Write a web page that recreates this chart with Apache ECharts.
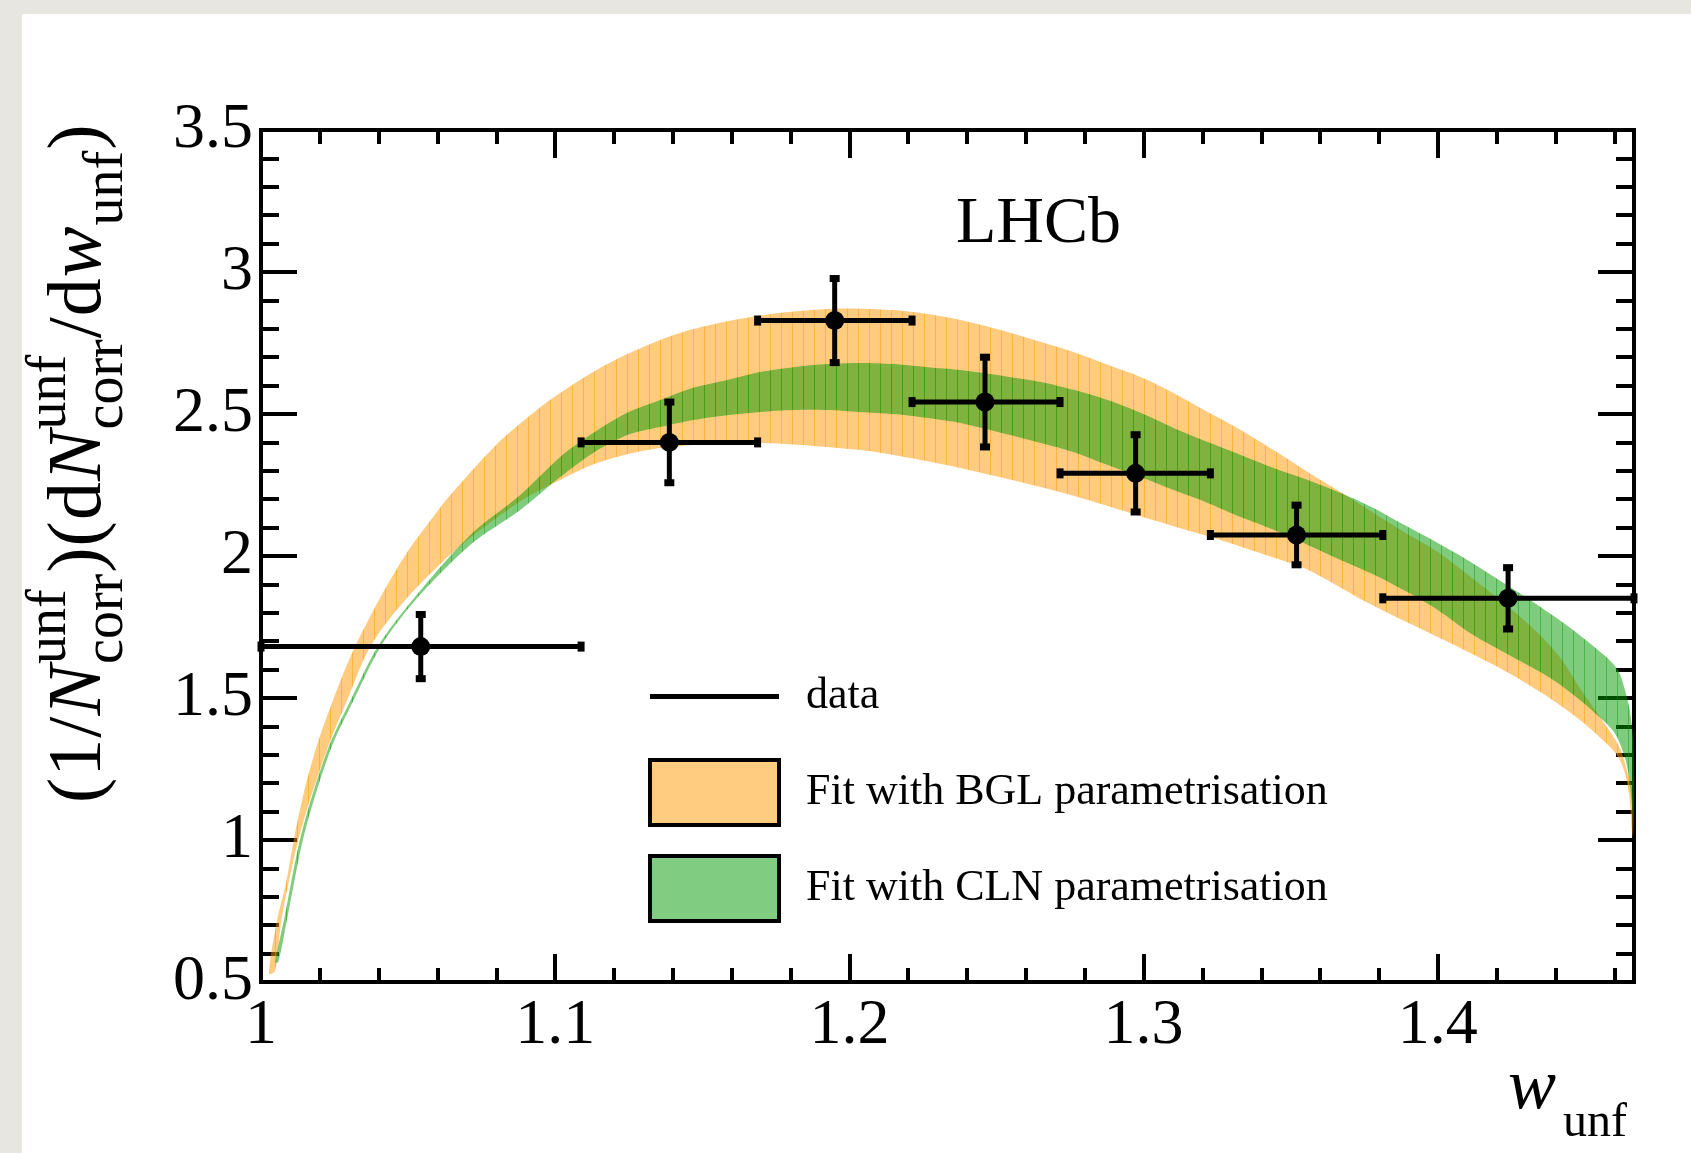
<!DOCTYPE html>
<html>
<head>
<meta charset="utf-8">
<title>LHCb w_unf spectrum</title>
<script src="https://cdn.jsdelivr.net/npm/echarts@6/dist/echarts.min.js"></script>
<style>
  html, body { margin: 0; padding: 0; width: 1691px; height: 1153px; overflow: hidden; background: #e8e6e1; }
  #card { position: absolute; left: 22px; top: 14px; width: 1669px; height: 1139px; background: #fff; }
  #chart { position: absolute; left: 0; top: 0; width: 1691px; height: 1153px; }
</style>
</head>
<body>
<div id="card"></div>
<div id="chart"></div>
<script>
// axis ranges
const xRange = [1, 1.4667]
const yRange = [0.5, 3.5]

// measured points: bin edges, bin centre, value, error
const binLow = [1.0, 1.1088, 1.1688, 1.2213, 1.2716, 1.3227, 1.3813]
const binHigh = [1.1088, 1.1688, 1.2213, 1.2716, 1.3227, 1.3813, 1.4667]
const wPoint = [1.0543, 1.1388, 1.1950, 1.2461, 1.2973, 1.3520, 1.4239]
const yPoint = [1.681, 2.400, 2.829, 2.542, 2.291, 2.074, 1.851]
const yError = [0.113, 0.142, 0.148, 0.158, 0.136, 0.105, 0.108]

// fit bands, [w, value] along each edge
const bglUpper = [
  [1.0027, 0.530], [1.0054, 0.715], [1.0085, 0.849], [1.0116, 1.025], [1.0146, 1.169],
  [1.0177, 1.289], [1.0204, 1.377], [1.0245, 1.493], [1.0289, 1.609], [1.0327, 1.697],
  [1.0401, 1.845], [1.0493, 2.007], [1.0585, 2.137], [1.0629, 2.197], [1.0799, 2.391],
  [1.0946, 2.521], [1.1017, 2.574], [1.1129, 2.648], [1.1245, 2.711], [1.1357, 2.761],
  [1.1469, 2.799], [1.1585, 2.827], [1.1697, 2.847], [1.1810, 2.861], [1.1925, 2.870],
  [1.2037, 2.871], [1.2150, 2.866], [1.2265, 2.852], [1.2378, 2.831], [1.2514, 2.796],
  [1.2650, 2.754], [1.2762, 2.718], [1.2878, 2.673], [1.2990, 2.630], [1.3102, 2.574],
  [1.3218, 2.507], [1.3330, 2.444], [1.3442, 2.373], [1.3558, 2.296], [1.3670, 2.225],
  [1.3884, 2.085], [1.4000, 2.014], [1.4112, 1.926], [1.4224, 1.835], [1.4340, 1.729],
  [1.4418, 1.640], [1.4486, 1.530], [1.4554, 1.430], [1.4599, 1.360], [1.4622, 1.317],
  [1.4643, 1.246], [1.4660, 1.176]
]
const bglLower = [
  [1.0048, 0.539], [1.0071, 0.729], [1.0133, 1.025], [1.0224, 1.317], [1.0293, 1.493],
  [1.0371, 1.680], [1.0490, 1.845], [1.0677, 2.035], [1.0888, 2.197], [1.1017, 2.268],
  [1.1129, 2.322], [1.1245, 2.358], [1.1357, 2.380], [1.1469, 2.391], [1.1585, 2.398],
  [1.1697, 2.398], [1.1810, 2.393], [1.1925, 2.384], [1.2037, 2.373], [1.2150, 2.356],
  [1.2265, 2.334], [1.2378, 2.310], [1.2650, 2.243], [1.2762, 2.212], [1.2878, 2.176],
  [1.2990, 2.140], [1.3102, 2.105], [1.3218, 2.070], [1.3330, 2.033], [1.3442, 1.995],
  [1.3558, 1.952], [1.3772, 1.830], [1.4088, 1.670], [1.4238, 1.590], [1.4350, 1.520],
  [1.4442, 1.455], [1.4510, 1.400], [1.4578, 1.335], [1.4612, 1.295], [1.4633, 1.246],
  [1.4650, 1.165], [1.4662, 1.010]
]
const clnUpper = [
  [1.0049, 0.570], [1.0080, 0.729], [1.0138, 1.025], [1.0226, 1.317], [1.0305, 1.493],
  [1.0396, 1.680], [1.0515, 1.845], [1.0711, 2.074], [1.0881, 2.215], [1.1017, 2.349],
  [1.1129, 2.433], [1.1245, 2.504], [1.1357, 2.549], [1.1469, 2.592], [1.1585, 2.620],
  [1.1697, 2.648], [1.1810, 2.665], [1.1925, 2.676], [1.2037, 2.680], [1.2150, 2.676],
  [1.2265, 2.665], [1.2378, 2.655], [1.2650, 2.613], [1.2762, 2.585], [1.2878, 2.549],
  [1.2990, 2.504], [1.3102, 2.451], [1.3218, 2.401], [1.3330, 2.356], [1.3442, 2.310],
  [1.3558, 2.268], [1.3670, 2.222], [1.3782, 2.169], [1.3874, 2.116], [1.4000, 2.046],
  [1.4112, 1.979], [1.4224, 1.905], [1.4340, 1.827], [1.4452, 1.746], [1.4565, 1.651],
  [1.4612, 1.599], [1.4633, 1.540], [1.4650, 1.470], [1.4662, 1.380], [1.4667, 1.250]
]
const clnLower = [
  [1.0059, 0.570], [1.0090, 0.729], [1.0148, 1.025], [1.0236, 1.317], [1.0315, 1.493],
  [1.0406, 1.680], [1.0525, 1.845], [1.0711, 2.039], [1.0881, 2.162], [1.1017, 2.278],
  [1.1129, 2.363], [1.1245, 2.426], [1.1357, 2.454], [1.1469, 2.479], [1.1585, 2.496],
  [1.1697, 2.507], [1.1810, 2.514], [1.1925, 2.514], [1.2037, 2.507], [1.2150, 2.500],
  [1.2265, 2.486], [1.2378, 2.468], [1.2650, 2.398], [1.2762, 2.366], [1.2878, 2.320],
  [1.2990, 2.278], [1.3102, 2.232], [1.3218, 2.187], [1.3330, 2.137], [1.3442, 2.092],
  [1.3558, 2.039], [1.3670, 1.986], [1.3782, 1.935], [1.3884, 1.880], [1.4000, 1.810],
  [1.4112, 1.727], [1.4248, 1.648], [1.4374, 1.576], [1.4463, 1.510], [1.4531, 1.450],
  [1.4599, 1.380], [1.4633, 1.300], [1.4650, 1.222], [1.4662, 1.100], [1.4667, 1.020]
]

const serif = 'Liberation Serif'
const black = '#000'

// ROOT draws the band as many thin bars: fake it with a striped fill
function stripes (base, line) {
  const c = document.createElement('canvas')
  c.width = 11
  c.height = 4
  const ctx = c.getContext('2d')
  ctx.fillStyle = base
  ctx.fillRect(0, 0, 11, 4)
  ctx.clearRect(0, 0, 1, 4)
  ctx.fillStyle = line
  ctx.fillRect(0, 0, 1, 4)
  return { image: c, repeat: 'repeat' }
}

function bandRenderer (upper, lower, fill) {
  return function (params, api) {
    const pts = upper.map(p => api.coord(p))
      .concat(lower.slice().reverse().map(p => api.coord(p)))
    return { type: 'polygon', shape: { points: pts, smooth: 0.3 }, style: { fill: fill } }
  }
}

function errorBar (params, api) {
  const c = api.coord([api.value(0), api.value(1)])
  const left = api.coord([api.value(2), api.value(1)])
  const right = api.coord([api.value(3), api.value(1)])
  const top = api.coord([api.value(0), api.value(1) + api.value(4)])
  const bot = api.coord([api.value(0), api.value(1) - api.value(4)])
  const bar = { stroke: black, lineWidth: 5 }
  const ink = { fill: black }
  return {
    type: 'group',
    children: [
      { type: 'line', shape: { x1: left[0], y1: c[1], x2: right[0], y2: c[1] }, style: bar },
      { type: 'line', shape: { x1: c[0], y1: top[1], x2: c[0], y2: bot[1] }, style: bar },
      { type: 'rect', shape: { x: left[0] - 3.5, y: c[1] - 5, width: 7, height: 10 }, style: ink },
      { type: 'rect', shape: { x: right[0] - 3.5, y: c[1] - 5, width: 7, height: 10 }, style: ink },
      { type: 'rect', shape: { x: c[0] - 5, y: top[1] - 3.5, width: 10, height: 7 }, style: ink },
      { type: 'rect', shape: { x: c[0] - 5, y: bot[1] - 3.5, width: 10, height: 7 }, style: ink },
      { type: 'circle', shape: { cx: c[0], cy: c[1], r: 9.5 }, style: ink }
    ]
  }
}

// text helpers for the math-like axis titles
const measureCtx = document.createElement('canvas').getContext('2d')
function textWidth (t, size, italic) {
  measureCtx.font = (italic ? 'italic ' : '') + size + 'px "' + serif + '"'
  return measureCtx.measureText(t).width
}
function txt (t, x, base, size, italic) {
  return {
    type: 'text',
    x: x,
    y: base - 0.34 * size,
    style: {
      text: t, fontSize: size, fontFamily: serif, fontStyle: italic ? 'italic' : 'normal',
      fill: black, align: 'left', verticalAlign: 'middle'
    }
  }
}
function mathText (pieces, main, small, supShift, subShift, gap) {
  const kids = []
  let x = 0
  pieces.forEach(p => {
    if (p.t) {
      kids.push(txt(p.t, x, 0, main, p.it))
      x += textWidth(p.t, main, p.it) + gap
    } else {
      let w = 0
      if (p.sup) { kids.push(txt(p.sup, x, supShift, small)); w = Math.max(w, textWidth(p.sup, small)) }
      if (p.sub) { kids.push(txt(p.sub, x, subShift, small)); w = Math.max(w, textWidth(p.sub, small)) }
      x += w + gap
    }
  })
  return kids
}

const yTitle = mathText([
  { t: '(' }, { t: '1' }, { t: '/' }, { t: 'N', it: true }, { sup: 'unf', sub: 'corr' },
  { t: ')' }, { t: '(' }, { t: 'd' }, { t: 'N', it: true }, { sup: 'unf', sub: 'corr' },
  { t: '/' }, { t: 'd' }, { t: 'w', it: true }, { sub: 'unf' }, { t: ')' }
], 76, 56, -37, 20, 1)

const tickLine = { color: black, width: 4 }
const labelFont = { fontFamily: serif, fontSize: 64, color: black }

const chart = echarts.init(document.getElementById('chart'))
chart.setOption({
  animation: false,
  backgroundColor: 'transparent',
  grid: [
    { left: 261, right: 57, top: 130, bottom: 171, show: true, borderColor: black, borderWidth: 4, backgroundColor: 'transparent', outerBoundsMode: 'none' },
    { left: 261, right: 57, top: 130, bottom: 171, outerBoundsMode: 'none' }
  ],
  xAxis: [
    {
      gridIndex: 0, type: 'value', min: xRange[0], max: xRange[1], interval: 0.1, position: 'bottom',
      axisLine: { show: false },
      axisTick: { inside: true, length: 28, lineStyle: tickLine },
      axisLabel: { margin: 12, showMaxLabel: false, ...labelFont },
      splitLine: { show: false }
    },
    {
      gridIndex: 0, type: 'value', min: xRange[0], max: xRange[1], interval: 0.1, position: 'top',
      axisLine: { show: false },
      axisTick: { inside: true, length: 28, lineStyle: tickLine },
      axisLabel: { show: false },
      splitLine: { show: false }
    },
    // minor ticks every 0.02 on a twin grid
    {
      gridIndex: 1, type: 'value', min: xRange[0], max: xRange[1], interval: 0.02, position: 'bottom',
      axisLine: { show: false },
      axisTick: { inside: true, length: 14, lineStyle: tickLine },
      axisLabel: { show: false },
      splitLine: { show: false }
    },
    {
      gridIndex: 1, type: 'value', min: xRange[0], max: xRange[1], interval: 0.02, position: 'top',
      axisLine: { show: false },
      axisTick: { inside: true, length: 14, lineStyle: tickLine },
      axisLabel: { show: false },
      splitLine: { show: false }
    }
  ],
  yAxis: [
    {
      gridIndex: 0, type: 'value', min: yRange[0], max: yRange[1], interval: 0.5, position: 'left',
      axisLine: { show: false },
      axisTick: { inside: true, length: 36, lineStyle: tickLine },
      minorTick: { show: true, splitNumber: 5, length: 18, lineStyle: tickLine },
      axisLabel: { margin: 8, ...labelFont },
      splitLine: { show: false }
    },
    {
      gridIndex: 0, type: 'value', min: yRange[0], max: yRange[1], interval: 0.5, position: 'right',
      axisLine: { show: false },
      axisTick: { inside: true, length: 36, lineStyle: tickLine },
      minorTick: { show: true, splitNumber: 5, length: 18, lineStyle: tickLine },
      axisLabel: { show: false },
      splitLine: { show: false }
    },
    { gridIndex: 1, type: 'value', min: yRange[0], max: yRange[1], show: false }
  ],
  legend: {
    orient: 'vertical',
    left: 648,
    top: 662,
    padding: 0,
    itemWidth: 129,
    itemHeight: 65,
    itemGap: 27,
    selectedMode: false,
    symbolKeepAspect: true,
    textStyle: { fontFamily: serif, fontSize: 44, lineHeight: 69, color: black, padding: [0, 0, 0, 22] },
    data: [
      { name: 'data', icon: 'path://M0,0h129v5h-129z', itemStyle: { color: black, borderWidth: 0 } },
      { name: 'Fit with BGL parametrisation', icon: 'rect', itemStyle: { color: '#ffcc80', borderColor: black, borderWidth: 4 } },
      { name: 'Fit with CLN parametrisation', icon: 'rect', itemStyle: { color: '#80cc80', borderColor: black, borderWidth: 4 } }
    ]
  },
  graphic: [
    { type: 'text', x: 956, y: 247 - 0.34 * 66, style: { text: 'LHCb', fontSize: 66, fontFamily: serif, fill: black, align: 'left', verticalAlign: 'middle' } },
    { type: 'group', x: 0, y: 0, children: [txt('w', 1508, 1114, 72, true), txt('unf', 1563, 1140, 48)] },
    { type: 'group', x: 106, y: 803, rotation: Math.PI / 2, children: yTitle }
  ],
  series: [
    {
      name: 'Fit with BGL parametrisation',
      type: 'custom',
      xAxisIndex: 0,
      yAxisIndex: 0,
      silent: true,
      data: [0],
      renderItem: bandRenderer(bglUpper, bglLower, stripes('rgba(255,153,0,0.5)', 'rgba(255,153,0,0.75)')),
      z: 2
    },
    {
      name: 'Fit with CLN parametrisation',
      type: 'custom',
      xAxisIndex: 0,
      yAxisIndex: 0,
      silent: true,
      data: [0],
      renderItem: bandRenderer(clnUpper, clnLower, stripes('rgba(0,153,0,0.5)', 'rgba(0,153,0,0.72)')),
      z: 3
    },
    {
      name: 'data',
      type: 'custom',
      xAxisIndex: 0,
      yAxisIndex: 0,
      clip: false,
      dimensions: ['w', 'y', 'lo', 'hi', 'err'],
      encode: { x: 0, y: 1 },
      data: wPoint.map((w, i) => [w, yPoint[i], binLow[i], binHigh[i], yError[i]]),
      renderItem: errorBar,
      z: 4
    }
  ]
})
</script>
</body>
</html>
